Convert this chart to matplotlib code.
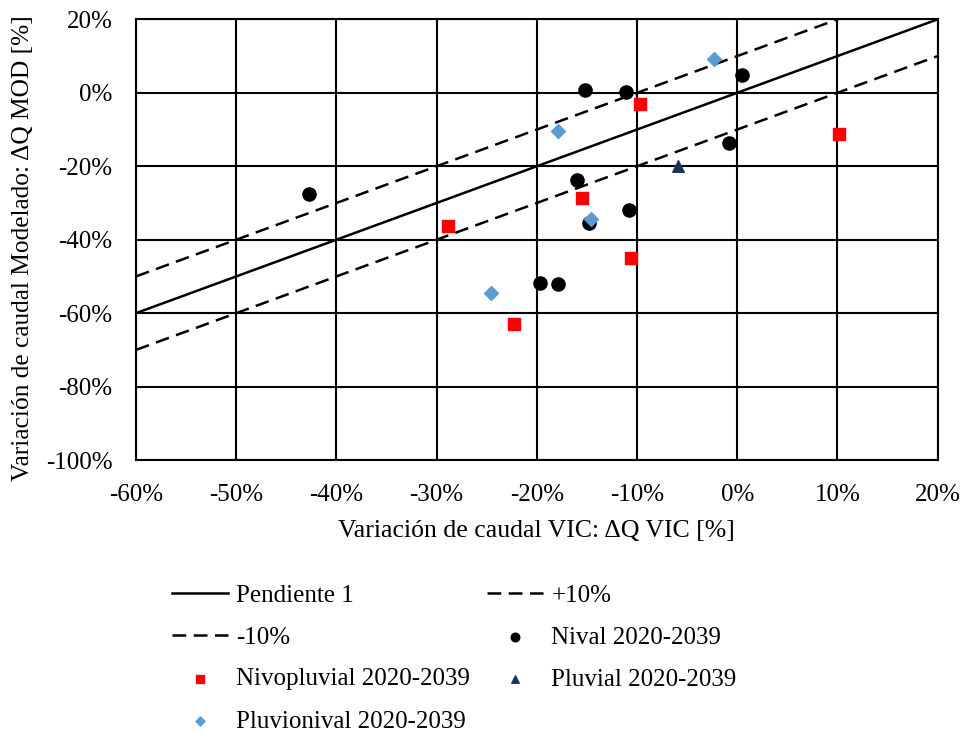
import numpy as np
import matplotlib
matplotlib.use("Agg")
import matplotlib.pyplot as plt
from matplotlib.ticker import FuncFormatter

plt.rcParams["font.family"] = ["Liberation Serif", "DejaVu Serif"]

# datos (en %)
nival_x = [-42.7, -19.7, -17.9, -15.2, -11.1, 0.5, -0.8, -16.0, -10.8, -14.8]
nival_y = [-27.6, -51.9, -52.2, 0.7, 0.3, 4.8, -13.7, -23.8, -31.8, -35.5]
nivopluvial_x = [-28.9, -22.3, -9.7, 10.2, -15.5, -10.6]
nivopluvial_y = [-36.4, -63.0, -3.1, -11.1, -28.6, -44.9]
pluvial_x = [-5.9]
pluvial_y = [-19.9]
pluvionival_x = [-24.6, -2.3, -17.9, -14.6]
pluvionival_y = [-54.5, 9.3, -10.5, -34.3]

linea_x = [-60, 20]
xticks = np.arange(-60, 21, 10)
yticks = np.arange(-100, 21, 20)

fig = plt.figure(figsize=(9.69, 7.35), dpi=100)
ax = fig.add_axes([0.1404, 0.3741, 0.9677 - 0.1404, 0.9737 - 0.3741])

lx = np.array(linea_x)
l1, = ax.plot(lx, lx, color="black", lw=1.8, label="Pendiente 1")
l2, = ax.plot(lx, lx + 10, color="black", lw=1.8, dashes=(5.5, 3), label="+10%")
l3, = ax.plot(lx, lx - 10, color="black", lw=1.8, dashes=(5.5, 3), label="-10%")

s1 = ax.scatter(nival_x, nival_y, s=90, marker="o", color="black", zorder=3,
                label="Nival 2020-2039")
s2 = ax.scatter(nivopluvial_x, nivopluvial_y, s=75, marker="s", color="#ff0000",
                zorder=3, label="Nivopluvial 2020-2039")
s3 = ax.scatter(pluvial_x, pluvial_y, s=70, marker="^", color="#1f2d50",
                edgecolor="#1f3864", zorder=3, label="Pluvial 2020-2039")
s4 = ax.scatter(pluvionival_x, pluvionival_y, s=50, marker="D", color="#5b9bd5",
                zorder=3, label="Pluvionival 2020-2039")

ax.set_xlim(-60, 20)
ax.set_ylim(-100, 20)
ax.set_xticks(xticks)
ax.set_yticks(yticks)
ax.xaxis.set_major_formatter(FuncFormatter(lambda v, p: f"{v:.0f}%"))
ax.yaxis.set_major_formatter(FuncFormatter(lambda v, p: f"{v:.0f}%"))
ax.grid(True, color="black", lw=1.5)
ax.set_axisbelow(True)
for sp in ax.spines.values():
    sp.set_linewidth(1.5)
ax.tick_params(length=0, labelsize=18)
ax.tick_params(axis="x", pad=17)
ax.tick_params(axis="y", pad=17)
ax.set_xlabel("Variación de caudal VIC: ΔQ VIC [%]", fontsize=18.5, labelpad=10)
ax.set_ylabel("Variación de caudal Modelado: ΔQ MOD [%]", fontsize=18.3)
ax.yaxis.set_label_coords(-0.127, 0.48)

handles = [l1, l3, s2, s4, l2, s1, s3]
fig.legend(handles=handles, loc="upper left", bbox_to_anchor=(172 / 969, 1 - 584 / 735),
           ncol=2, frameon=False, fontsize=18, handlelength=2.24, handletextpad=0.32,
           columnspacing=0.7, labelspacing=0.78, borderpad=0, borderaxespad=0,
           scatterpoints=1, markerscale=0.65)

fig.savefig("out.png", dpi=100)
